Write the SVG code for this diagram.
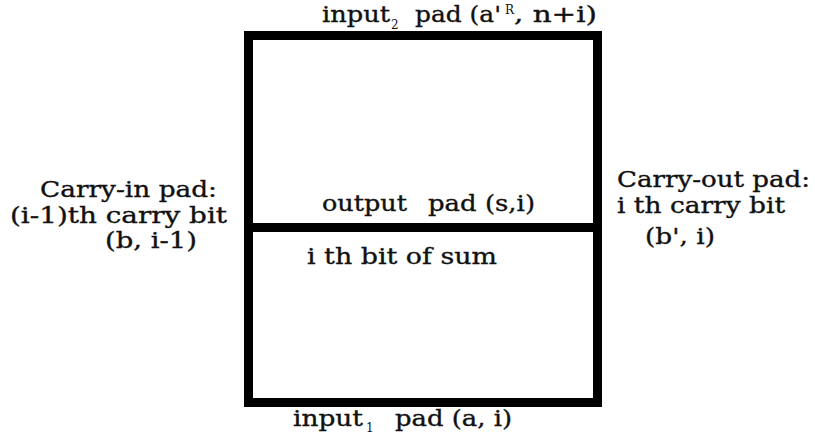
<svg xmlns="http://www.w3.org/2000/svg" width="815" height="438" viewBox="0 0 815 438">
  <style>
    .t { font-family: "DejaVu Serif", "Liberation Serif", serif; font-size: 22px; fill: #111; stroke: #111; stroke-width: 0.35px; }
    .s { font-family: "DejaVu Serif", "Liberation Serif", serif; font-size: 12px; fill: #111; }
    .box { fill: none; stroke: #000; stroke-width: 9; stroke-linejoin: miter; }
  </style>
  <rect width="815" height="438" fill="#fff"/>

  <!-- full adder cell: outer frame split into output / sum halves -->
  <g id="cell">
    <rect class="box" x="248.5" y="35.5" width="349" height="367"/>
    <line class="box" x1="248.5" y1="227.5" x2="597.5" y2="227.5"/>
  </g>

  <g id="input2-pad">
    <text class="t" x="322" y="22" textLength="68" lengthAdjust="spacingAndGlyphs">input</text>
    <text class="s" x="391" y="29">2</text>
    <text class="t" x="415" y="22" textLength="86" lengthAdjust="spacingAndGlyphs">pad (a'</text>
    <text class="s" x="505" y="14">R</text>
    <text class="t" x="514" y="22" textLength="83" lengthAdjust="spacingAndGlyphs">, n+i)</text>
  </g>

  <g id="output-pad">
    <text class="t" x="322" y="211" textLength="85" lengthAdjust="spacingAndGlyphs">output</text>
    <text class="t" x="428" y="211" textLength="107" lengthAdjust="spacingAndGlyphs">pad (s,i)</text>
    <text class="t" x="307" y="264" textLength="190" lengthAdjust="spacingAndGlyphs">i th bit of sum</text>
  </g>

  <g id="input1-pad">
    <text class="t" x="293" y="426" textLength="70" lengthAdjust="spacingAndGlyphs">input</text>
    <text class="s" x="366" y="432">1</text>
    <text class="t" x="395" y="426" textLength="117" lengthAdjust="spacingAndGlyphs">pad (a, i)</text>
  </g>

  <g id="carry-in-pad">
    <text class="t" x="40" y="197" textLength="177" lengthAdjust="spacingAndGlyphs">Carry-in pad:</text>
    <text class="t" x="10" y="223" textLength="217" lengthAdjust="spacingAndGlyphs">(i-1)th carry bit</text>
    <text class="t" x="105" y="248" textLength="92" lengthAdjust="spacingAndGlyphs">(b, i-1)</text>
  </g>

  <g id="carry-out-pad">
    <text class="t" x="617" y="187" textLength="193" lengthAdjust="spacingAndGlyphs">Carry-out pad:</text>
    <text class="t" x="617" y="213" textLength="168" lengthAdjust="spacingAndGlyphs">i th carry bit</text>
    <text class="t" x="645" y="244" textLength="70" lengthAdjust="spacingAndGlyphs">(b', i)</text>
  </g>

  <g id="connectors"></g>
</svg>
